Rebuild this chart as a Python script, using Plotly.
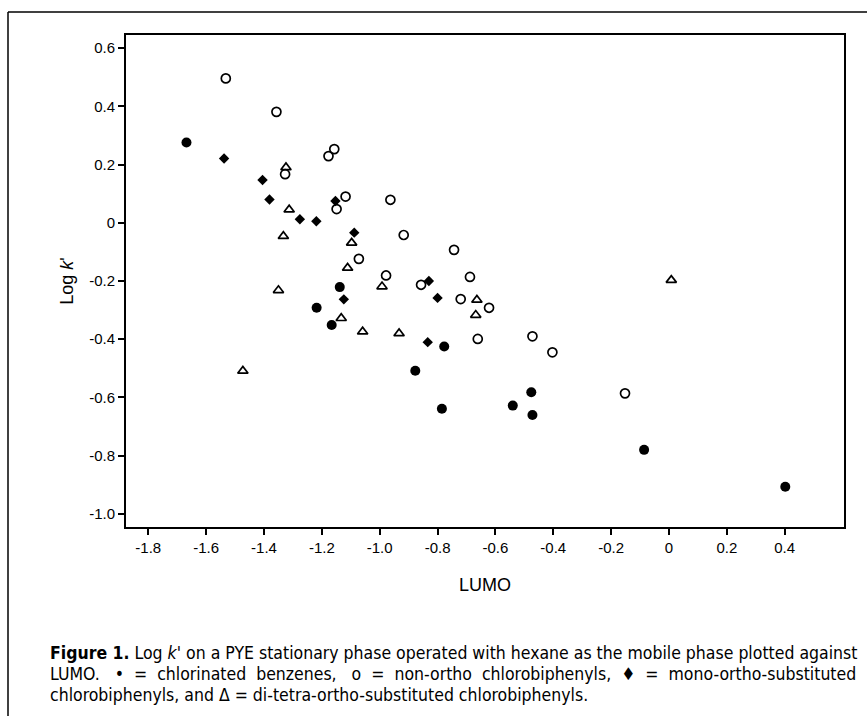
import plotly.graph_objects as go

# chlorinated benzenes (filled circles)
benz_x = [-1.668, -1.138, -1.218, -1.166, -0.777, -0.877, -0.476, -0.540, -0.785, -0.472, -0.086, 0.402]
benz_y = [0.276, -0.221, -0.292, -0.351, -0.425, -0.508, -0.582, -0.628, -0.639, -0.660, -0.780, -0.907]

# non-ortho chlorobiphenyls (open circles)
non_x = [-1.532, -1.357, -1.327, -1.177, -1.157, -1.118, -1.149, -1.072, -0.963, -0.917,
         -0.743, -0.978, -0.688, -0.857, -0.720, -0.622, -0.661, -0.472, -0.403, -0.152]
non_y = [0.496, 0.381, 0.167, 0.229, 0.253, 0.090, 0.047, -0.124, 0.079, -0.042,
         -0.093, -0.181, -0.186, -0.213, -0.262, -0.292, -0.399, -0.390, -0.445, -0.586]

# mono-ortho-substituted chlorobiphenyls (filled diamonds)
mono_x = [-1.538, -1.405, -1.381, -1.276, -1.219, -1.153, -1.088, -0.830, -0.800, -0.834, -1.124]
mono_y = [0.221, 0.147, 0.080, 0.012, 0.005, 0.075, -0.034, -0.200, -0.258, -0.410, -0.263]

# di-tetra-ortho-substituted chlorobiphenyls (open triangles)
di_x = [-1.324, -1.313, -1.333, -1.097, -1.111, -0.992, -0.664, -0.668, -1.059, -0.933,
        -1.350, -1.133, -1.473, 0.008]
di_y = [0.190, 0.045, -0.046, -0.069, -0.155, -0.219, -0.265, -0.317, -0.374, -0.380,
        -0.232, -0.328, -0.509, -0.197]

x_ticks = [-1.8, -1.6, -1.4, -1.2, -1.0, -0.8, -0.6, -0.4, -0.2, 0, 0.2, 0.4]
x_tick_labels = ["-1.8", "-1.6", "-1.4", "-1.2", "-1.0", "-0.8", "-0.6", "-0.4", "-0.2", "0", "0.2", "0.4"]
y_ticks = [0.6, 0.4, 0.2, 0, -0.2, -0.4, -0.6, -0.8, -1.0]
y_tick_labels = ["0.6", "0.4", "0.2", "0", "-0.2", "-0.4", "-0.6", "-0.8", "-1.0"]

NB = "\u00a0"
caption_lines = [
    "<b>Figure 1.</b> Log <i>k</i>' on a PYE stationary phase operated with hexane as the mobile phase plotted against",
    ("LUMO." + NB * 2 + " \u2022" + NB + " =" + NB + " chlorinated" + NB + " benzenes," + NB * 2 + " o" + NB +
     " =" + NB + " non-ortho" + NB + " chlorobiphenyls," + NB + " \u2666" + NB + " =" + NB + " mono-ortho-substituted"),
    "chlorobiphenyls, and \u0394 = di-tetra-ortho-substituted chlorobiphenyls.",
]

fig = go.Figure()
fig.add_trace(go.Scatter(x=non_x, y=non_y, mode="markers",
                         marker=dict(symbol="circle-open", size=9, color="black", line=dict(width=1.7))))
fig.add_trace(go.Scatter(x=di_x, y=di_y, mode="markers",
                         marker=dict(symbol="triangle-up-open", size=9, color="black", line=dict(width=1.7))))
fig.add_trace(go.Scatter(x=mono_x, y=mono_y, mode="markers",
                         marker=dict(symbol="diamond", size=8, color="black")))
fig.add_trace(go.Scatter(x=benz_x, y=benz_y, mode="markers",
                         marker=dict(symbol="circle", size=10, color="black")))

W, H = 867, 716
L, R, T, B = 126, 844, 35, 527
pw, ph = R - L, B - T

def px_x(p):
    return (p - L) / pw

def px_y(p):
    return (B - p) / ph

tick_font = dict(family="Liberation Sans, Arial, sans-serif", size=15, color="black")
title_font = dict(family="Liberation Sans, Arial, sans-serif", size=18, color="black")
cap_font = dict(family="Liberation Sans Narrow, DejaVu Sans Condensed, sans-serif", size=17.5, color="black")

fig.update_layout(
    width=W, height=H,
    margin=dict(l=L, r=W - R, t=T, b=H - B),
    paper_bgcolor="white", plot_bgcolor="white",
    showlegend=False,
    xaxis=dict(range=[-1.877, 0.605], tickvals=x_ticks, ticktext=x_tick_labels,
               showgrid=False, zeroline=False, showline=True, linecolor="black", linewidth=2,
               mirror=True, ticks="outside", ticklen=6, tickwidth=1.5, tickcolor="black",
               tickfont=tick_font,
               title=dict(text="LUMO", font=title_font, standoff=23)),
    yaxis=dict(range=[-1.045, 0.645], tickvals=y_ticks, ticktext=y_tick_labels,
               showgrid=False, zeroline=False, showline=True, linecolor="black", linewidth=2,
               mirror=True, ticks="outside", ticklen=6, tickwidth=1.5, tickcolor="black",
               tickfont=tick_font,
               title=dict(text="Log <i>k</i>'", font=title_font, standoff=11)),
)

# outer figure frame (left and top edges visible)
fig.add_shape(type="line", xref="paper", yref="paper", x0=px_x(8), x1=px_x(870), y0=px_y(12), y1=px_y(12),
              line=dict(color="black", width=1.5))
fig.add_shape(type="line", xref="paper", yref="paper", x0=px_x(8), x1=px_x(8), y0=px_y(12), y1=px_y(720),
              line=dict(color="black", width=1.5))

cap_y = [653, 674, 695]
for line, yy in zip(caption_lines, cap_y):
    fig.add_annotation(text=line, xref="paper", yref="paper", x=px_x(48), y=px_y(yy),
                       xanchor="left", yanchor="middle", showarrow=False, font=cap_font, align="left")

fig.write_html("out.html", config={"displayModeBar": False},
               post_script="document.body.style.margin='0';document.body.style.overflow='hidden';")
